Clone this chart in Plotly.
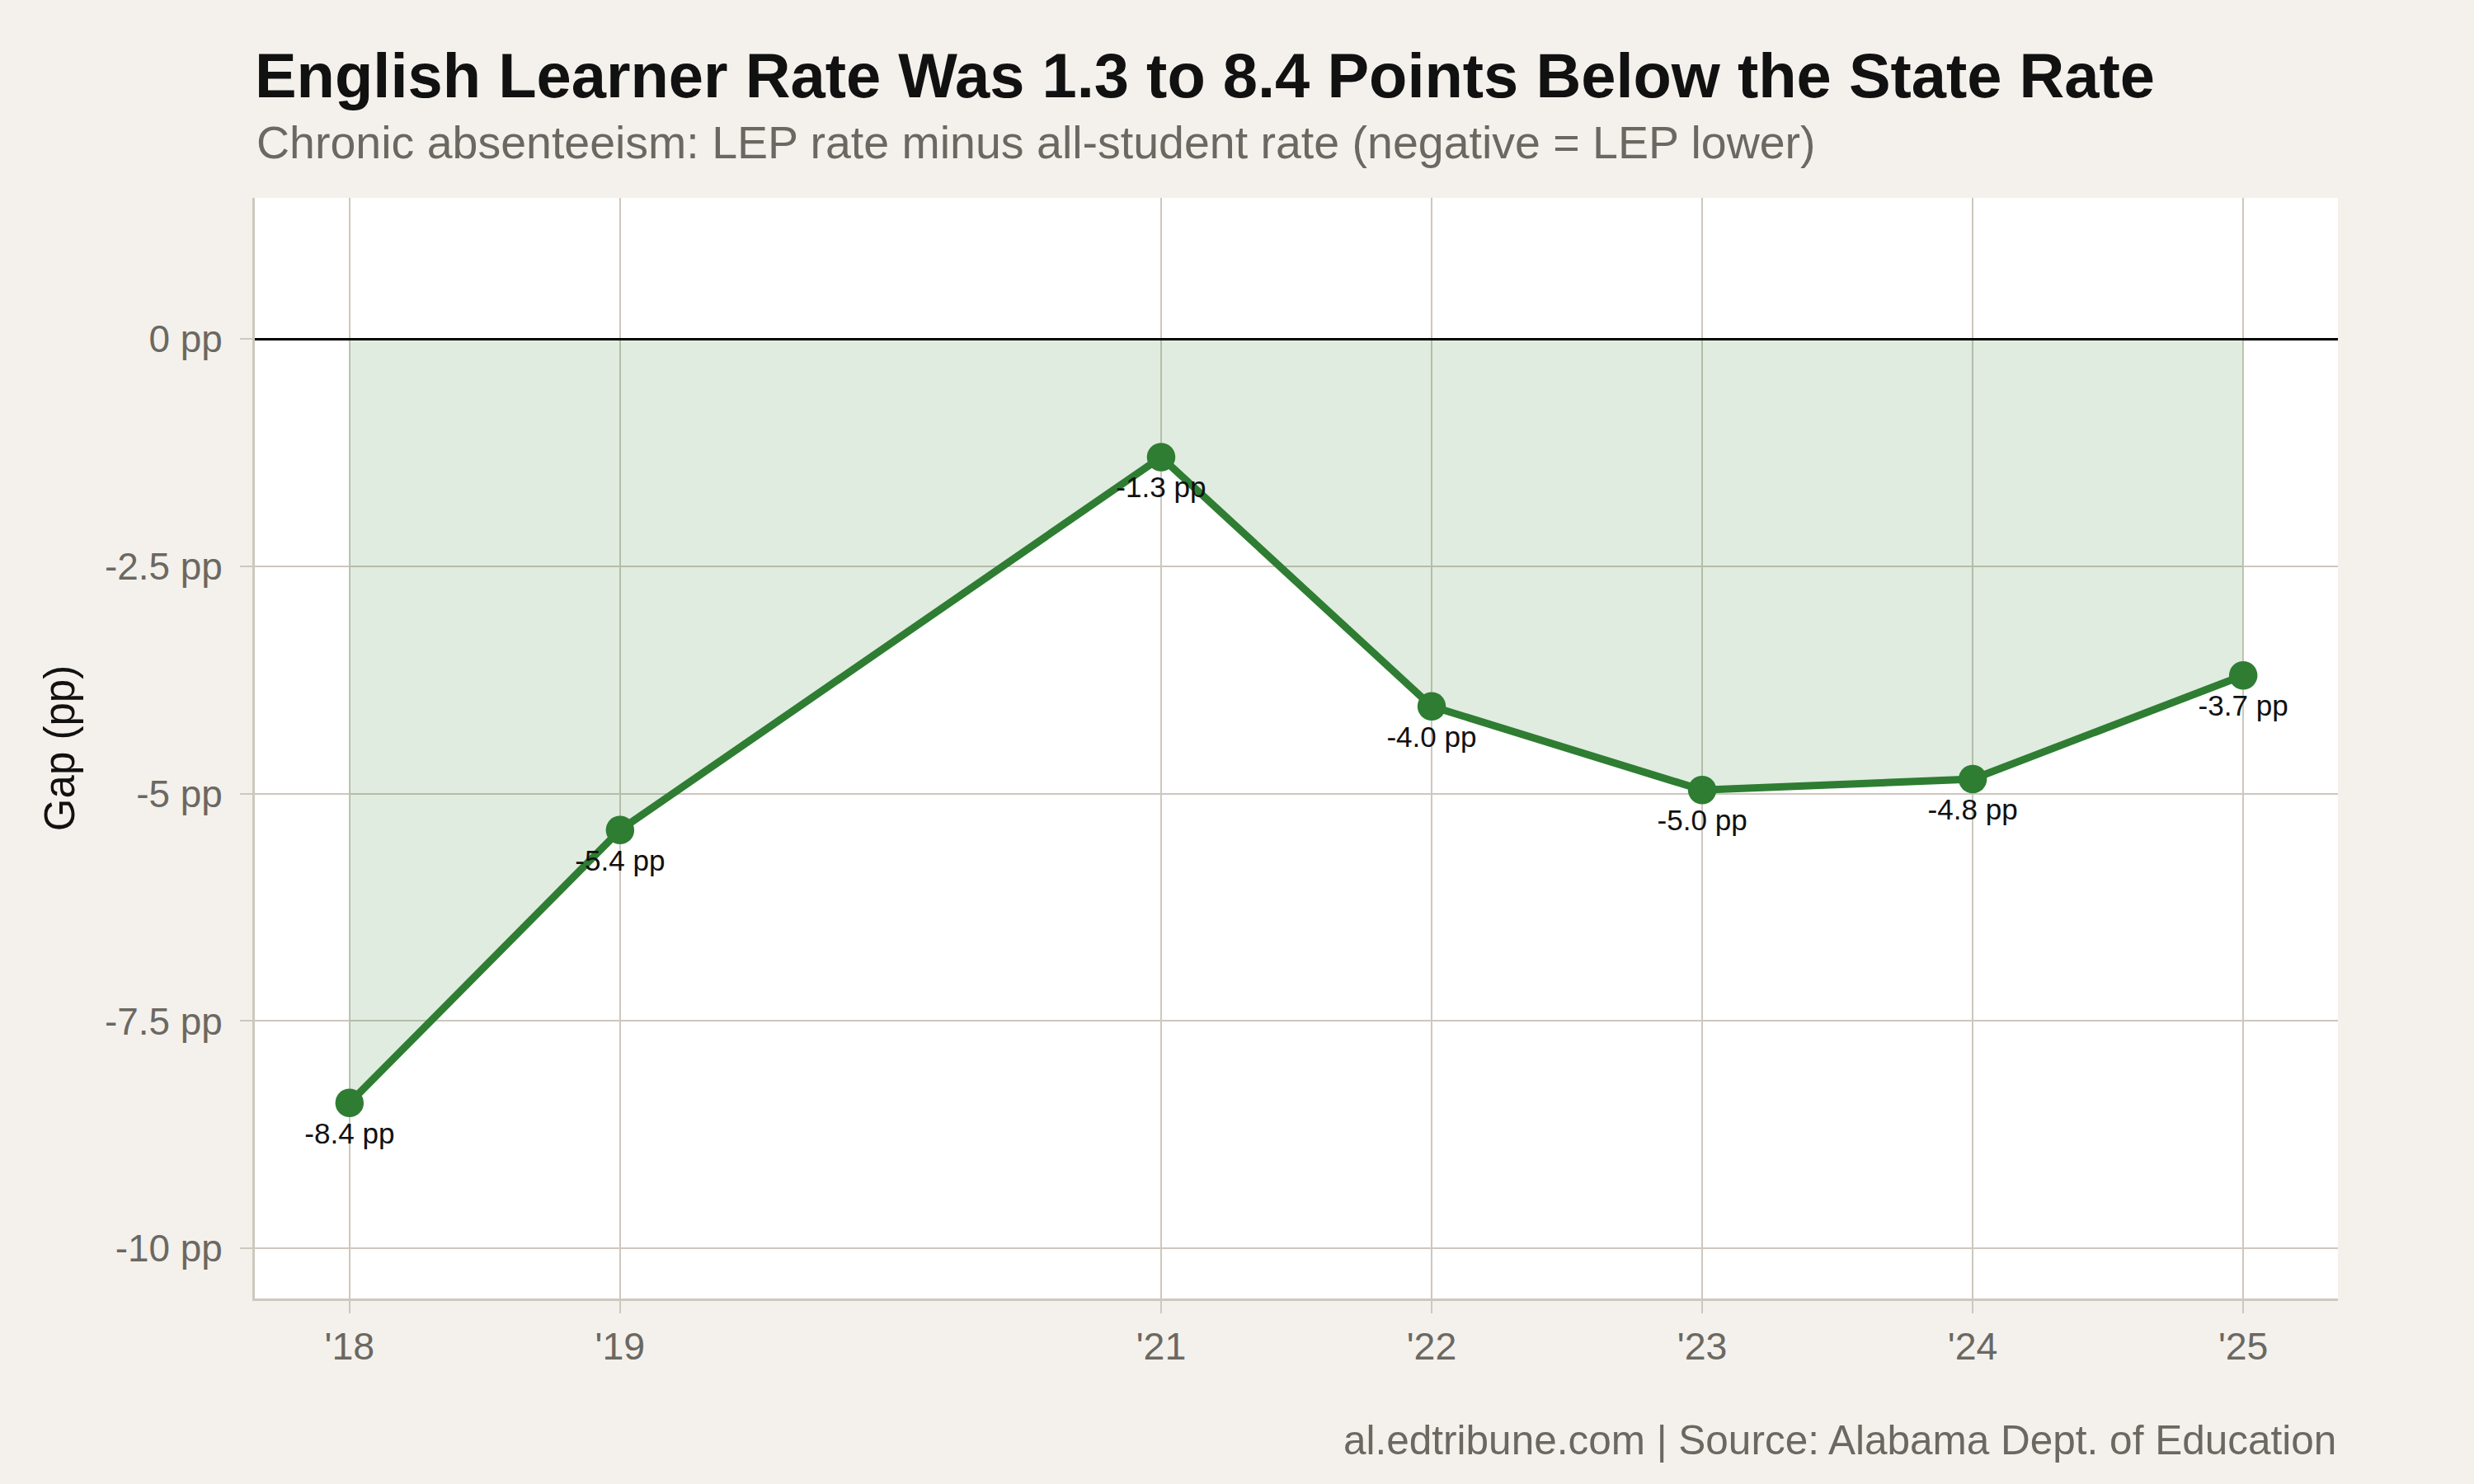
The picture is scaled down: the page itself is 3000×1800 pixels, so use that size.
import plotly.graph_objects as go

# chronic absenteeism gap, LEP minus all students (percentage points)
years = [2018, 2019, 2021, 2022, 2023, 2024, 2025]
gap_pp = [-8.4, -5.4, -1.3, -4.04, -4.96, -4.84, -3.7]
tick_years = [2018, 2019, 2021, 2022, 2023, 2024, 2025]
tick_labels = ["'18", "'19", "'21", "'22", "'23", "'24", "'25"]
y_ticks = [0, -2.5, -5, -7.5, -10]
y_tick_labels = ["0 pp", "-2.5 pp", "-5 pp", "-7.5 pp", "-10 pp"]

S = 3  # layout drawn at 1000x600, rendered at 3x
GREEN = "#2e7d32"
GRID = "#cdc7be"
FONT = "Liberation Sans, Arial, Helvetica, sans-serif"

fig = go.Figure()
fig.add_trace(go.Scatter(
    x=years, y=gap_pp, mode="lines+markers+text",
    line=dict(color=GREEN, width=3 * S),
    marker=dict(color=GREEN, size=11.5 * S),
    fill="tozeroy", fillcolor="rgba(46,125,50,0.15)",
    texttemplate="%{y:.1f} pp", textposition="bottom center",
    textfont=dict(size=11.7 * S, color="#111111"),
    hoverinfo="skip", showlegend=False,
))

fig.update_layout(
    width=1000 * S, height=600 * S,
    paper_bgcolor="#f4f1ec", plot_bgcolor="#ffffff",
    font=dict(family=FONT, color="#6b6862"),
    margin=dict(l=103 * S, r=55 * S, t=80 * S, b=75 * S),
    title=dict(
        text="<b>English Learner Rate Was 1.3 to 8.4 Points Below the State Rate</b>",
        x=103 / 1000, xanchor="left", y=1 - 30.5 / 600, yanchor="middle",
        font=dict(size=25.3 * S, color="#111111", family=FONT),
    ),
    xaxis=dict(
        range=[2017.65, 2025.35], tickvals=tick_years, ticktext=tick_labels,
        showgrid=True, gridcolor=GRID, gridwidth=0.8 * S,
        showline=True, linecolor=GRID, linewidth=1 * S,
        ticks="outside", ticklen=5 * S, tickwidth=0.8 * S, tickcolor=GRID,
        tickfont=dict(size=15.5 * S, color="#6b6862"), zeroline=False,
    ),
    yaxis=dict(
        range=[-10.55, 1.55], tickvals=y_ticks, ticktext=y_tick_labels,
        showgrid=True, gridcolor=GRID, gridwidth=0.8 * S,
        showline=True, linecolor=GRID, linewidth=1 * S,
        ticks="outside", ticklen=5 * S, tickwidth=0.8 * S, tickcolor=GRID,
        tickfont=dict(size=15.3 * S, color="#6b6862"), ticklabelstandoff=4 * S,
        zeroline=True, zerolinecolor="#000000", zerolinewidth=1 * S,
        title=dict(text="Gap (pp)", font=dict(size=17 * S, color="#111111"), standoff=7 * S),
    ),
    annotations=[
        dict(text="Chronic absenteeism: LEP rate minus all-student rate (negative = LEP lower)",
             xref="paper", yref="paper", x=0, y=1 + 22.5 / 445, xanchor="left", yanchor="middle",
             showarrow=False, font=dict(size=18.5 * S, color="#6b6862")),
        dict(text="al.edtribune.com | Source: Alabama Dept. of Education",
             xref="paper", yref="paper", x=1, y=-57 / 445, xanchor="right", yanchor="middle",
             showarrow=False, font=dict(size=16.5 * S, color="#6b6862")),
    ],
)

fig.write_html("out.html", config={"displayModeBar": False},
               post_script="document.body.style.margin='0';")
